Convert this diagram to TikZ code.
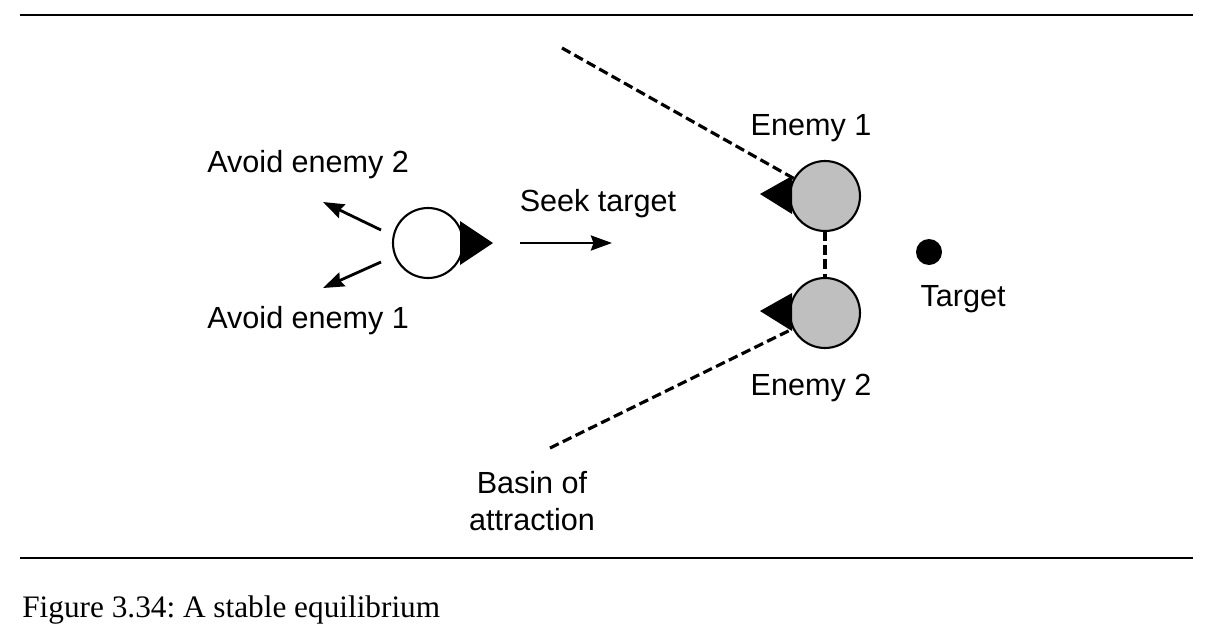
\documentclass[tikz,border=0pt]{standalone}
\usepackage{fontspec}
\setmainfont{Liberation Sans}
\newfontfamily\capfont{Liberation Serif}
\usetikzlibrary{positioning,arrows.meta}
\tikzset{
  bot/.style={circle, draw, line width=1.2pt, inner sep=0pt, outer sep=0pt, minimum size=1.4cm},
  basin/.style={line width=1.8pt, dash pattern=on 5.5pt off 2.6pt},
  pull/.style={->, line width=1.6pt}
}
\begin{document}
\frenchspacing
\begin{tikzpicture}[x=0.02cm, y=-0.02cm, >={Stealth[length=12pt, width=8.5pt, inset=1.5pt]}, line join=round, font=\fontsize{17.4}{21}\selectfont]
  \useasboundingbox (0,0) rectangle (1211,643);
  % frame rules
  \draw[line width=0.8pt] (20,15) -- (1193,15);
  \draw[line width=0.8pt] (20,558) -- (1193,558);
  % the character
  \node[bot, fill=white] (me) at (428,243) {};
  \fill ([shift={(32,-22)}]me.center) -- ([shift={(32,22)}]me.center) -- ([shift={(65,0)}]me.center) -- cycle;
  % the enemies
  \node[bot, fill=black!25] (e1) at (825,196) {};
  \node[bot, fill=black!25] (e2) at (825,313) {};
  \fill ([shift={(-33,-20)}]e1.center) -- ([shift={(-33,18)}]e1.center) -- ([shift={(-65,-2)}]e1.center) -- cycle;
  \fill ([shift={(-33,-20)}]e2.center) -- ([shift={(-33,18)}]e2.center) -- ([shift={(-65,-2)}]e2.center) -- cycle;
  % the target
  \node[circle, fill, inner sep=0pt, minimum size=0.52cm] (tg) at (929,252) {};
  % steering forces
  \coordinate (a2s) at (381,230);  \coordinate (a2e) at (323,202);
  \coordinate (a1s) at (381,262);  \coordinate (a1e) at (323,288);
  \coordinate (sks) at (520,243);  \coordinate (ske) at (612,243);
  \draw[pull] (a2s) -- (a2e);
  \draw[pull] (a1s) -- (a1e);
  \draw[pull] (sks) -- (ske);
  % basin of attraction
  \coordinate (b1) at (562,48);
  \coordinate (b2) at (550,448);
  \draw[basin] (b1) -- (e1);
  \draw[basin] (b2) -- (e2);
  \draw[basin] (e1) -- (e2);
  % labels
  \node[anchor=west, inner sep=0pt] (la2) at (207,165) {Avoid enemy 2};
  \node[anchor=west, inner sep=0pt] (la1) at (207,321) {Avoid enemy 1};
  \node[inner sep=0pt] (lsk) at (598,204) {Seek target};
  \node[inner sep=0pt] (le1) at (811,128) {Enemy 1};
  \node[inner sep=0pt] (le2) at (811,388) {Enemy 2};
  \node[inner sep=0pt] (ltg) at (963,299) {Target};
  \node[inner sep=0pt, align=center] (lba) at (532,501) {Basin of\\attraction};
  % caption
  \node[anchor=base west, inner sep=0pt] (cap) at (22,617) {\capfont\fontsize{17.8}{21}\selectfont Figure 3.34: A stable equilibrium};
\end{tikzpicture}
\end{document}
